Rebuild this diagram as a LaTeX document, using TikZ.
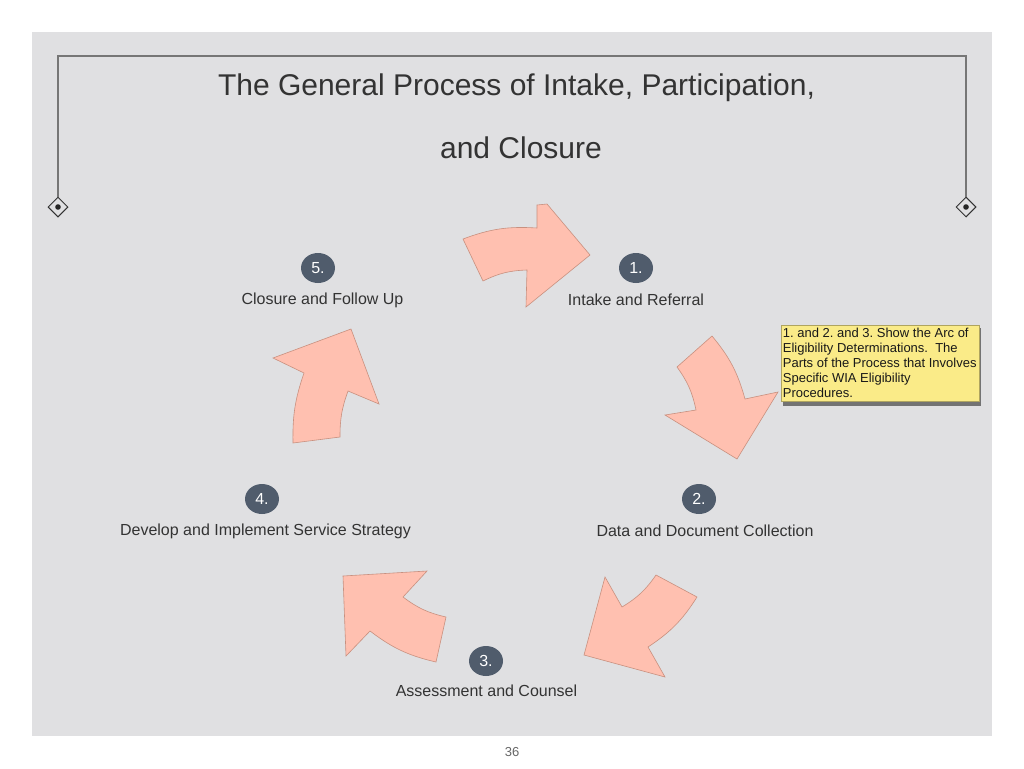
\documentclass[tikz,border=0pt]{standalone}
\usepackage{fontspec}
\setmainfont{Liberation Sans}
\usetikzlibrary{shapes.geometric}
\definecolor{bg}{HTML}{E0E0E2}
\definecolor{arrowfill}{HTML}{FFC0B0}
\definecolor{arrowline}{HTML}{C8907F}
\definecolor{numfill}{HTML}{505C6C}
\definecolor{txt}{HTML}{333333}
\definecolor{notefill}{HTML}{FAEB88}
\definecolor{frameline}{HTML}{767676}
\tikzset{
  bigarrow/.style={fill=arrowfill, draw=arrowline, line width=0.6pt, line join=miter},
  numc/.style={ellipse, fill=numfill, minimum width=34pt, minimum height=30pt, inner sep=0pt,
    text=white, font=\fontsize{16}{19}\selectfont},
  lbl/.style={text=txt, font=\fontsize{16}{19}\selectfont, inner sep=0pt},
  ttl/.style={text=txt, font=\fontsize{30}{36}\selectfont, inner sep=0pt},
  dmd/.style={diamond, draw=black!80, fill=bg, line width=1pt, minimum width=20pt, minimum height=20pt, inner sep=0pt},
  framestyle/.style={draw=frameline, line width=1.1pt},
}
\begin{document}
\frenchspacing
\begin{tikzpicture}[x=1pt,y=-1pt]
\useasboundingbox (0,0) rectangle (1024,768);
\fill[white] (0,0) rectangle (1024,768);
\fill[bg] (32,32) rectangle (992,736);

% frame
\node[dmd] (dl) at (58,207) {};
\node[dmd] (dr) at (966,207) {};
\coordinate (ftl) at (58,56);
\coordinate (ftr) at (966,56);
\draw[framestyle] (dl.north) -- (ftl) -- (ftr) -- (dr.north);
\fill[black!85] (dl.center) circle (2.8);
\fill[black!85] (dr.center) circle (2.8);

% title
\node[ttl] (t1) at (516.5,88) {The General Process of Intake, Participation,};
\node[ttl] (t2) at (521,148) {and Closure};

% arrows
\path[bigarrow] (463,239) to[bend left=12] (537,228) -- (537,205) -- (547,204) -- (590,255)
  -- (526,307) -- (527,270) to[bend right=12] (483,281) -- cycle;
\path[bigarrow] (712,336) -- (677,367) to[bend left=12] (696,410) -- (665,415) -- (737,459)
  -- (778,392) -- (745,399) to[bend right=12] cycle;
\path[bigarrow] (656,575) -- (697,597) to[bend left=12] (648,647) -- (665,677) -- (584,655)
  -- (605,577) -- (622,607) to[bend right=12] cycle;
\path[bigarrow] (436,662) -- (446,617) to[bend left=12] (403,597) -- (427,571) -- (343,576)
  -- (346,656) -- (370,631) to[bend right=12] cycle;
\path[bigarrow] (293,443) -- (340,437) to[bend left=10] (348,391) -- (379,404) -- (351,329)
  -- (273,358) -- (304,373) to[bend right=10] cycle;

% numbered steps
\node[numc] (n1) at (636,268) {1.};
\node[lbl] (l1) at (636,300) {Intake and Referral};
\node[numc] (n2) at (699,499) {2.};
\node[lbl] (l2) at (705,531) {Data and Document Collection};
\node[numc] (n3) at (486,661) {3.};
\node[lbl] (l3) at (486.5,691) {Assessment and Counsel};
\node[numc] (n4) at (262,499) {4.};
\node[lbl] (l4) at (265.5,531) {Develop and Implement Service Strategy};
\node[numc] (n5) at (318,268) {5.};
\node[lbl] (l5) at (322.5,300) {Closure and Follow Up};

% note
\fill[black!55] (783,328) rectangle (981,406);
\node[fill=notefill, draw=notefill!70!black, line width=0.4pt, anchor=north west, minimum width=198pt, minimum height=76pt,
  inner xsep=1.5pt, inner ysep=1.5pt, align=left, text=black!90,
  font=\fontsize{13}{15}\selectfont] (note) at (780.5,325)
  {1. and 2. and 3. Show the Arc of\\Eligibility Determinations.\ \ The\\Parts of the Process that Involves\\Specific WIA Eligibility\\Procedures.};

% page number
\node[text=black!60, font=\fontsize{13}{15}\selectfont, inner sep=0pt] (pg) at (512,752) {36};
\end{tikzpicture}
\end{document}
